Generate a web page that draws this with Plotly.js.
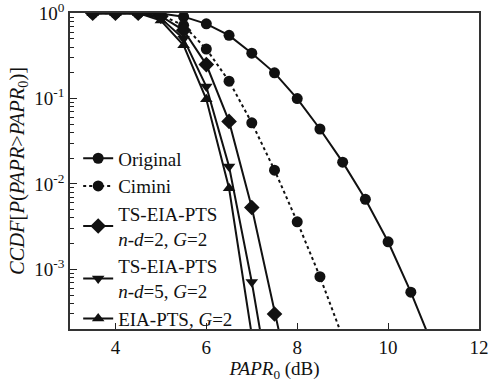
<!DOCTYPE html>
<html>
<head>
<meta charset="utf-8">
<script src="https://cdn.plot.ly/plotly-3.0.1.min.js"></script>
<style>html,body{margin:0;padding:0;background:#fff;}#chart{width:498px;height:383px;}</style>
</head>
<body>
<div id="chart"></div>
<script>
// PAPR0 (dB) sample points
var xOriginal = [3.5, 4, 4.5, 5, 5.5, 6, 6.5, 7, 7.5, 8, 8.5, 9, 9.5, 10, 10.5, 11];
var yOriginal = [1, 1, 1, 0.99, 0.91, 0.75, 0.55, 0.34, 0.2, 0.1, 0.044, 0.018, 0.0066, 0.0021, 0.00054, 0.00012];

var xCimini = [3.5, 4, 4.5, 5, 5.5, 6, 6.5, 7, 7.5, 8, 8.5, 9];
var yCimini = [1, 1, 1, 0.95, 0.72, 0.38, 0.16, 0.052, 0.0145, 0.0036, 0.00082, 0.00016];

var xTS2 = [3.5, 4, 4.5, 5, 5.5, 6, 6.5, 7, 7.5, 8];
var yTS2 = [1, 1, 1, 0.92, 0.63, 0.25, 0.054, 0.0053, 0.0003, 0.00002];

var xTS5 = [3.5, 4, 4.5, 5, 5.5, 6, 6.5, 7, 7.5];
var yTS5 = [1, 1, 1, 0.87, 0.5, 0.138, 0.016, 0.00071, 0.00002];

var xEIA = [3.5, 4, 4.5, 5, 5.5, 6, 6.5, 7];
var yEIA = [1, 1, 1, 0.82, 0.42, 0.098, 0.0089, 0.00017];

var seriesNames = [
  'Original',
  'Cimini',
  'TS-EIA-PTS<br><i>n</i>-<i>d</i>=2, <i>G</i>=2',
  'TS-EIA-PTS<br><i>n</i>-<i>d</i>=5, <i>G</i>=2',
  'EIA-PTS, <i>G</i>=2'
];

var yTickVals = [1, 0.1, 0.01, 0.001];
var yTickText = ['10<sup>0</sup>', '10<sup>-1</sup>', '10<sup>-2</sup>', '10<sup>-3</sup>'];
var xTickVals = [4, 6, 8, 10, 12];

function makeTrace(x, y, name, symbol, size, dash) {
  return {
    x: x, y: y, name: name, type: 'scatter', mode: 'lines+markers',
    line: {color: '#111', width: 2, dash: dash || 'solid'},
    marker: {symbol: symbol, size: size, color: '#111'}
  };
}

var traces = [
  makeTrace(xOriginal, yOriginal, seriesNames[0], 'circle', 11),
  makeTrace(xCimini, yCimini, seriesNames[1], 'circle', 11, 'dot'),
  makeTrace(xTS2, yTS2, seriesNames[2], 'diamond', 12),
  makeTrace(xTS5, yTS5, seriesNames[3], 'triangle-down', 11),
  makeTrace(xEIA, yEIA, seriesNames[4], 'triangle-up', 11)
];

var chartLayout = {
  width: 498, height: 383,
  margin: {l: 70, r: 19, t: 13, b: 54},
  paper_bgcolor: '#fff', plot_bgcolor: '#fff',
  font: {family: 'Liberation Serif', size: 18, color: '#111'},
  showlegend: true,
  legend: {
    x: 0.02, y: 0.6, xanchor: 'left', yanchor: 'top',
    bgcolor: 'rgba(0,0,0,0)', borderwidth: 0,
    font: {size: 19},
    traceorder: 'normal'
  },
  xaxis: {
    range: [3, 12], tickmode: 'array', tickvals: xTickVals, ticks: 'inside', ticklen: 6, tickwidth: 1.2,
    tickcolor: '#222', showline: true, linecolor: '#333', linewidth: 1.5, mirror: true,
    showgrid: false, zeroline: false, ticklabeloverflow: 'allow',
    tickfont: {size: 19},
    title: {text: '<i>PAPR</i><sub>0</sub> (dB)', font: {size: 19}, standoff: 2}
  },
  yaxis: {
    type: 'log', range: [Math.log10(2e-4), 0.002],
    tickmode: 'array', tickvals: yTickVals, ticktext: yTickText,
    ticks: 'inside', ticklen: 7, tickwidth: 1.2, tickcolor: '#222',
    minor: {dtick: 'D1', ticks: 'inside', ticklen: 4, tickwidth: 1, tickcolor: '#222', showgrid: false},
    showline: true, linecolor: '#333', linewidth: 1.5, mirror: true,
    showgrid: false, zeroline: false, ticklabeloverflow: 'allow',
    tickfont: {size: 19},
    title: {text: '<i>CCDF</i>[<i>P</i>(<i>PAPR</i>&gt;<i>PAPR</i><sub>0</sub>)]', font: {size: 20.5}, standoff: 4}
  }
};

Plotly.newPlot('chart', traces, chartLayout, {displayModeBar: false});
</script>
</body>
</html>
